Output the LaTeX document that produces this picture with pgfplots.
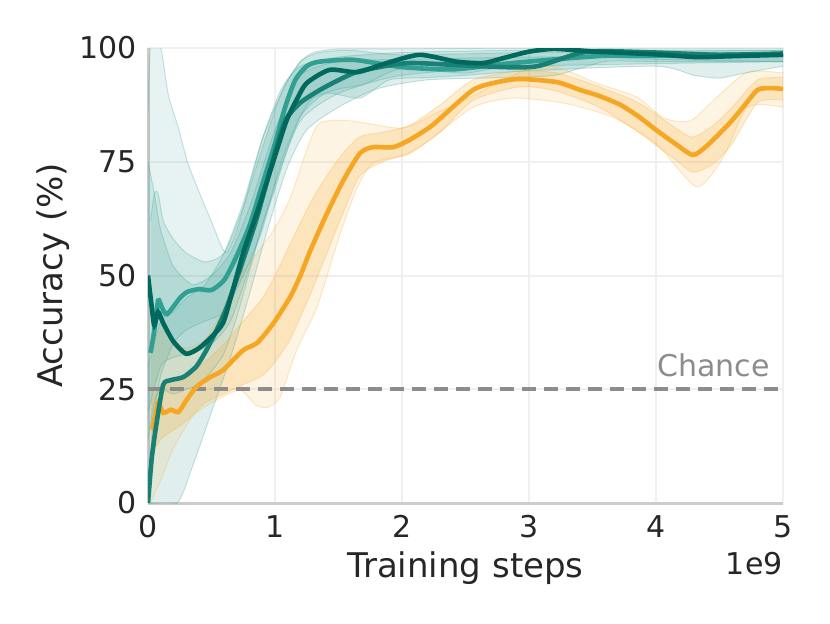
\documentclass[border=0pt]{standalone}
\usepackage{pgfplots}
\pgfplotsset{compat=1.18}
\usepgfplotslibrary{fillbetween}
\usepackage{fontspec}
\setmainfont{DejaVu Sans}
\definecolor{tdark}{RGB}{0,104,92}
\definecolor{tmid}{RGB}{24,128,116}
\definecolor{tlight}{RGB}{48,160,146}
\definecolor{tband}{RGB}{60,158,148}
\definecolor{orng}{RGB}{245,166,35}
\definecolor{txt}{RGB}{38,38,38}
\begin{document}
\begin{tikzpicture}
\begin{axis}[
 at={(0,0)}, anchor=south west,
 scale only axis, width=317.5pt, height=227.5pt,
 xmin=0,xmax=5,ymin=0,ymax=100,
 xtick={0,1,2,3,4,5}, ytick={0,25,50,75,100},
 axis x line*=bottom, axis y line*=left,
 axis line style={-, draw=black!20, line width=1.5pt},
 grid=major, grid style={draw=black!6, line width=1pt},
 major tick length=0pt,
 /pgf/number format/assume math mode=true,
 tick label style={font=\fontsize{15}{18}\selectfont, text=txt, inner sep=0pt},
 xticklabel style={yshift=-6pt},
 yticklabel style={xshift=-5.5pt},
 xlabel={Training steps}, ylabel={Accuracy (\%)},
 label style={font=\fontsize{17}{20}\selectfont, text=txt, inner sep=0pt},
 xlabel style={at={(axis description cs:0.5,-0.1055)}, anchor=north},
 ylabel style={at={(axis description cs:-0.149,0.5)}, anchor=center},
 clip=true,
 bandedge/.style={draw=tband, draw opacity=0.28, line width=0.5pt, smooth, tension=0.4},
 oedge/.style={draw=orng, draw opacity=0.25, line width=0.5pt, smooth, tension=0.4},
 mainline/.style={line width=2.3pt, smooth, tension=0.4},
]
% ---- teal bands
\addplot[name path=Au, bandedge] coordinates {(0,86)(0.02,100)(0.1,100)(0.16,89.7)(0.24,82.4)(0.31,75)(0.39,69.2)(0.5,61.8)(0.61,55)(0.7,60)(0.8,70)(0.9,80)(1.0,87)(1.1,93)(1.2,97)(1.3,99)(1.5,99.8)(2,99.8)(3,100)(5,100)};
\addplot[name path=Al, bandedge] coordinates {(0,14)(0.05,22)(0.1,25)(0.2,24)(0.3,25)(0.4,26)(0.5,29)(0.6,33)(0.7,41)(0.8,51)(0.9,61)(1.0,69)(1.1,78)(1.2,85)(1.3,89)(1.5,91)(1.7,92)(2,95.5)(2.5,94.5)(3,97)(3.5,98)(4,97.5)(5,97)};
\addplot[tband, fill opacity=0.12, draw=none] fill between[of=Au and Al];
\addplot[name path=Bu, bandedge] coordinates {(0.02,62)(0.05,68)(0.08,68)(0.12,62)(0.2,58)(0.3,55)(0.45,53)(0.6,55)(0.75,65)(0.9,78)(1.05,90)(1.2,97)(1.35,99)(1.6,99.5)(2,98.5)(3,99)(5,99.5)};
\addplot[name path=Bl, bandedge] coordinates {(0.02,10)(0.05,20)(0.1,28)(0.2,35)(0.3,38)(0.45,40)(0.6,42)(0.75,50)(0.9,60)(1.05,75)(1.2,85)(1.4,90)(1.67,89)(1.9,93)(2.2,93.5)(2.5,94)(3,95)(4,96)(4.3,94)(4.5,93.4)(4.7,94.5)(5,96)};
\addplot[tband, fill opacity=0.16, draw=none] fill between[of=Bu and Bl];
\addplot[name path=Cu, bandedge] coordinates {(0,30)(0.1,40)(0.2,42)(0.3,45)(0.45,48)(0.6,55)(0.75,66)(0.9,80)(1.05,91)(1.2,96)(1.5,98)(2,99)(3,99.5)(5,99.5)};
\addplot[name path=Cl, bandedge] coordinates {(0,0)(0.23,0)(0.35,8)(0.5,20)(0.65,32)(0.8,46)(0.95,61)(1.1,74)(1.25,82)(1.5,87)(1.8,91)(2.2,93)(2.8,93.5)(3.2,94)(3.6,97)(4,97)(5,97)};
\addplot[tband, fill opacity=0.16, draw=none] fill between[of=Cu and Cl];
\addplot[name path=Du, bandedge] coordinates {(0,75)(0.05,68)(0.1,60)(0.2,52)(0.35,48)(0.5,50)(0.65,55)(0.8,65)(1.0,82)(1.2,94)(1.5,97)(2,97.5)(3,98)(5,98.5)};
\addplot[name path=Dl, bandedge] coordinates {(0,20)(0.1,30)(0.2,32)(0.35,33)(0.5,35)(0.65,40)(0.8,52)(1.0,70)(1.2,84)(1.5,90)(2,94)(3,96)(5,97)};
\addplot[tband, fill opacity=0.16, draw=none] fill between[of=Du and Dl];
% ---- orange bands
\addplot[name path=Ou, oedge] coordinates {(0.02,35)(0.1,38)(0.2,36)(0.3,34)(0.45,36)(0.6,43)(0.67,48)(0.86,55)(0.99,60)(1.12,67)(1.25,77.6)(1.35,83.5)(1.59,84)(2.0,82.4)(2.27,85.7)(2.54,89.2)(2.8,93)(3.0,95.5)(3.22,95.8)(3.53,92.3)(3.85,89.2)(4.06,84.6)(4.27,84)(4.48,89.2)(4.72,94.7)(5,94.5)};
\addplot[name path=Ol, oedge] coordinates {(0.02,0)(0.1,5)(0.2,12)(0.35,19)(0.5,22)(0.72,24.8)(0.85,21.5)(0.94,21)(1.04,23.3)(1.17,33.6)(1.33,43)(1.5,58)(1.64,68.8)(1.77,74.7)(2.04,76.5)(2.22,79.8)(2.56,87)(2.87,89)(3.27,87.9)(3.66,84.8)(4.0,79)(4.32,69.5)(4.53,76)(4.72,87)(5,87)};
\addplot[orng, fill opacity=0.12, draw=none] fill between[of=Ou and Ol];
\addplot[name path=Iu, oedge] coordinates {(0.02,22)(0.1,26)(0.2,27)(0.3,28)(0.45,31)(0.6,35)(0.75,40)(0.9,45)(1.0,50)(1.12,57)(1.28,66)(1.41,72)(1.54,77)(1.67,80.5)(1.85,81.5)(2.06,83)(2.3,87.5)(2.56,93)(2.93,95)(3.22,94.5)(3.55,91.5)(3.86,88)(4.15,82.5)(4.29,80.4)(4.45,83)(4.6,87)(4.8,93)(5,93.5)};
\addplot[name path=Il, oedge] coordinates {(0.02,10)(0.1,14)(0.2,16)(0.3,18)(0.45,22)(0.6,24)(0.75,26)(0.9,28)(1.0,31)(1.12,36)(1.28,46)(1.41,55)(1.54,64)(1.67,72)(1.85,75)(2.06,77)(2.3,81.5)(2.56,88.5)(2.93,91.5)(3.22,90.5)(3.55,87)(3.86,81.5)(4.15,75.5)(4.29,72.7)(4.45,74.5)(4.6,79)(4.8,88)(5,88.5)};
\addplot[orng, fill opacity=0.2, draw=none] fill between[of=Iu and Il];
% ---- chance
\addplot[draw=black!45, line width=2.2pt, dash pattern=on 7pt off 4pt] coordinates {(0,25)(5,25)};
% ---- orange line
\addplot[orng, mainline] coordinates {(0.02,16.5)(0.04,17)(0.08,22)(0.12,19.8)(0.18,20.5)(0.24,20)(0.3,22.5)(0.38,25.5)(0.48,27.5)(0.59,29.2)(0.75,33.6)(0.86,35.2)(0.99,39.6)(1.12,45.3)(1.2,50)(1.28,55.6)(1.41,63.7)(1.54,71)(1.67,76.9)(1.77,78.2)(1.93,78.2)(2.06,79.8)(2.22,82.6)(2.3,84.5)(2.56,90.8)(2.75,92.5)(2.93,93.2)(3.22,92.5)(3.4,90.8)(3.55,89.5)(3.72,87.5)(3.86,85)(4.0,82)(4.15,79)(4.29,76.5)(4.4,78.5)(4.58,83.5)(4.7,87.5)(4.8,90.8)(4.9,91.2)(5.0,91)};
% ---- teal lines
\addplot[tlight, mainline] coordinates {(0.02,33)(0.05,38)(0.08,44.5)(0.11,43)(0.15,41.5)(0.25,45)(0.31,46.4)(0.4,47)(0.5,46.8)(0.6,49)(0.69,53.8)(0.8,61)(0.9,70)(1.0,79)(1.08,87)(1.16,93)(1.25,96)(1.35,97)(1.62,97.4)(2.0,95.8)(2.4,95.3)(2.8,96.5)(3.2,97.5)(3.6,98.3)(4.0,98.3)(4.5,98.5)(5,98.6)};
\addplot[tmid, mainline] coordinates {(0,0)(0.03,10)(0.07,18)(0.12,26)(0.18,27)(0.28,27.7)(0.38,30)(0.46,33.6)(0.54,38)(0.62,43)(0.72,51)(0.85,62)(0.95,72)(1.03,80)(1.09,84.5)(1.2,88)(1.38,91.2)(1.62,94.5)(1.82,95.8)(2.06,96.7)(2.4,96.3)(2.8,95.8)(3.0,95.8)(3.11,96.3)(3.4,98.9)(3.6,99.3)(4.0,99)(4.5,98.5)(5,98.8)};
\addplot[tdark, mainline] coordinates {(0,50)(0.03,43)(0.05,39)(0.08,42)(0.12,39.5)(0.2,35.5)(0.3,32.8)(0.4,34)(0.5,36.5)(0.59,39.5)(0.65,45)(0.75,55)(0.86,64)(0.99,75.4)(1.09,84)(1.17,88.6)(1.25,92.3)(1.43,95.2)(1.65,94.7)(1.88,96.7)(2.14,98.5)(2.43,97)(2.64,96.7)(2.8,97.8)(3.0,99.2)(3.2,99.8)(3.53,99.2)(4.0,98.6)(4.32,98)(4.6,98.2)(5,98.5)};
\node[anchor=base east, inner sep=0pt, font=\fontsize{15}{18}\selectfont, text=black!45] at (axis cs:4.9,27.7) {Chance};
\end{axis}
\node[anchor=north east, inner sep=0pt, font=\fontsize{15}{18}\selectfont, text=txt] at (317.5pt,-24.3pt) {1e9};
\path[use as bounding box] (-74pt,-60pt) rectangle (341pt,251.5pt);
\end{tikzpicture}
\end{document}
